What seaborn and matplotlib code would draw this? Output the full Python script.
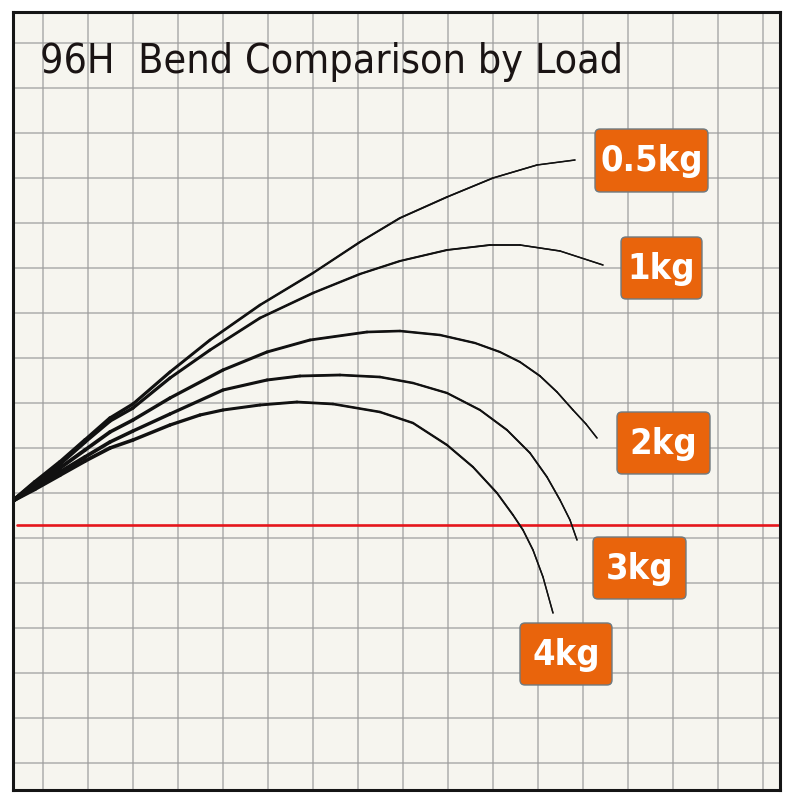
import matplotlib
matplotlib.use("Agg")
import matplotlib.pyplot as plt
from matplotlib.collections import LineCollection
from matplotlib.patches import FancyBboxPatch
import numpy as np
import pandas as pd
import seaborn as sns

# 읽어낸 곡선 좌표 (그림 픽셀 기준, y는 아래로 증가)
loads = ["0.5kg", "1kg", "2kg", "3kg", "4kg"]

x_05 = [14, 35, 60, 85, 110, 133, 170, 210, 260, 313, 360, 400, 447, 493, 537, 575]
y_05 = [500, 482, 462, 440, 418, 404, 372, 340, 305, 273, 242, 218, 197, 178, 165, 160]

x_1 = [14, 35, 60, 85, 110, 133, 170, 210, 260, 313, 360, 400, 447, 490, 520, 560, 603]
y_1 = [500, 483, 464, 442, 421, 408, 378, 350, 318, 293, 274, 261, 250, 245, 245, 251, 265]

x_2 = [14, 35, 60, 85, 110, 133, 170, 223, 267, 310, 367, 400, 440, 475, 500, 520, 540, 557, 573, 586, 597]
y_2 = [500, 485, 468, 450, 432, 420, 398, 370, 352, 340, 332, 331, 335, 343, 352, 362, 376, 392, 410, 424, 438]

x_3 = [14, 35, 60, 85, 110, 133, 170, 223, 267, 300, 340, 380, 413, 447, 480, 507, 530, 547, 560, 570, 577]
y_3 = [500, 487, 472, 457, 442, 431, 414, 390, 380, 376, 375, 377, 383, 393, 410, 430, 453, 477, 500, 520, 540]

x_4 = [14, 35, 60, 85, 110, 133, 170, 200, 223, 260, 297, 333, 380, 413, 447, 473, 497, 513, 523, 533, 543, 553]
y_4 = [500, 489, 475, 461, 448, 440, 425, 415, 410, 405, 402, 404, 412, 423, 445, 467, 493, 515, 530, 550, 577, 613]

# 라벨 박스 (x0, y0, x1, y1)
label_boxes = [(595, 129, 708, 192), (621, 237, 702, 299), (617, 412, 710, 474),
               (593, 537, 686, 599), (520, 623, 612, 685)]

red_line_y = 525
title = "96H  Bend Comparison by Load"

xs = [x_05, x_1, x_2, x_3, x_4]
ys = [y_05, y_1, y_2, y_3, y_4]
df = pd.concat([pd.DataFrame({"x": x, "y": y, "load": name})
                for name, x, y in zip(loads, xs, ys)])

sns.set_theme(style="white")
plt.rcParams["font.family"] = ["DejaVu Sans"]

fig = plt.figure(figsize=(8, 8), dpi=100)
fig.patch.set_facecolor("white")
ax = fig.add_axes([13 / 800, 1 - 790 / 800, (780 - 13) / 800, (790 - 12) / 800])
ax.set_facecolor("#f6f5ef")
ax.set_xlim(13, 780)
ax.set_ylim(790, 12)

# 모눈
grid = np.arange(43, 780, 45)
ax.set_xticks(grid)
ax.set_yticks(grid)
ax.tick_params(length=0, labelbottom=False, labelleft=False)
ax.grid(True, color="#9c9c9c", linewidth=1.1, alpha=0.8)
for s in ax.spines.values():
    s.set_color("#151515")
    s.set_linewidth(2.2)

# 빨간 기준선
sns.lineplot(x=[17, 778], y=[red_line_y, red_line_y], color="#e5161c", linewidth=1.9, ax=ax)

# 곡선: 기본선 + 손잡이쪽 굵어지는 선
sns.lineplot(data=df, x="x", y="y", units="load", estimator=None, sort=False,
             color="#1a1a1a", linewidth=1.1, ax=ax,
             solid_joinstyle="round", solid_capstyle="round")
for x, y in zip(xs, ys):
    pts = np.column_stack([x, y])
    segs = np.stack([pts[:-1], pts[1:]], axis=1)
    w = np.linspace(3.0, 0.9, len(segs))
    ax.add_collection(LineCollection(segs, linewidths=w, colors="#111111",
                                     capstyle="round", joinstyle="round"))

# 라벨
for name, (x0, y0, x1, y1) in zip(loads, label_boxes):
    box = FancyBboxPatch((x0, y0), x1 - x0, y1 - y0,
                         boxstyle="round,pad=0,rounding_size=5",
                         facecolor="#e9640c", edgecolor="#6f7a80", linewidth=1.0)
    ax.add_patch(box)
    ax.text((x0 + x1) / 2, (y0 + y1) / 2 + 1, name, color="white", fontsize=26,
            fontweight="bold", fontstretch="condensed", ha="center", va="center")

ax.text(40, 73, title, fontsize=29.5, color="#1a1414", ha="left", va="baseline",
        fontstretch="condensed")

ax.set_xlabel("")
ax.set_ylabel("")
fig.savefig("out.png", dpi=100)
